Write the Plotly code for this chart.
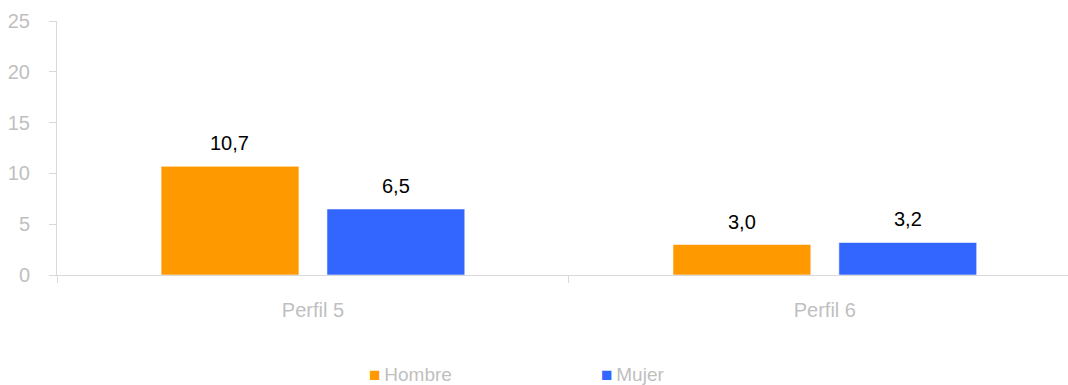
import plotly.graph_objects as go

categories = ["Perfil 5", "Perfil 6"]
hombre = [10.7, 3.0]
mujer = [6.5, 3.2]
series_names = ["Hombre", "Mujer"]
colors = ["#FF9900", "#3366FF"]
y_ticks = [0, 5, 10, 15, 20, 25]

FONT = "Liberation Sans, Arial, sans-serif"
AXIS_GRAY = "#D9D9D9"
TEXT_GRAY = "#BFBFBF"

fig = go.Figure()
for name, vals, col in zip(series_names, [hombre, mujer], colors):
    fig.add_trace(go.Bar(
        x=categories, y=vals, name=name,
        marker=dict(color=col, line=dict(color="rgba(255,255,255,0.55)", width=1)),
        hoverinfo="skip", showlegend=False,
    ))

# value labels above each bar, decimal comma
for i, cat in enumerate(categories):
    for vals, shift in [(hombre, -83), (mujer, 83)]:
        fig.add_annotation(
            x=cat, y=vals[i], xshift=shift, yshift=10,
            text=f"{vals[i]:.1f}".replace(".", ","),
            showarrow=False, yanchor="bottom",
            font=dict(family=FONT, size=20, color="#000000"),
        )

# legend row below the plot: coloured square followed by the series name
for name, col, xpos in zip(series_names, colors, [368, 600]):
    fig.add_annotation(
        xref="paper", yref="paper",
        x=(xpos - 57) / (1068 - 57), xanchor="left",
        y=-(375 - 275.5) / 254.5, yanchor="middle",
        text=f"<span style='color:{col}'>■</span>\u2009{name}",
        showarrow=False, borderpad=0,
        font=dict(family=FONT, size=19, color=TEXT_GRAY),
    )

fig.update_layout(
    width=1068, height=385,
    margin=dict(l=57, r=0, t=21, b=109.5),
    paper_bgcolor="white", plot_bgcolor="white",
    barmode="group", bargap=0.352, bargroupgap=0.169,
    font=dict(family=FONT, size=20, color=TEXT_GRAY),
    showlegend=False,
    xaxis=dict(
        range=[-0.5, 1.475], showline=True, linecolor=AXIS_GRAY, linewidth=1,
        ticks="outside", tickson="boundaries", ticklen=7, tickcolor=AXIS_GRAY,
        showgrid=False, zeroline=False,
        tickfont=dict(family=FONT, size=20, color=TEXT_GRAY),
        ticklabelstandoff=17,
    ),
    yaxis=dict(
        range=[0, 25], tickvals=y_ticks, showline=True, linecolor=AXIS_GRAY,
        linewidth=1, ticks="outside", ticklen=7, tickcolor=AXIS_GRAY,
        showgrid=False, zeroline=False,
        tickfont=dict(family=FONT, size=20, color=TEXT_GRAY),
        ticklabelstandoff=15,
    ),
)

fig.write_html("out.html")
